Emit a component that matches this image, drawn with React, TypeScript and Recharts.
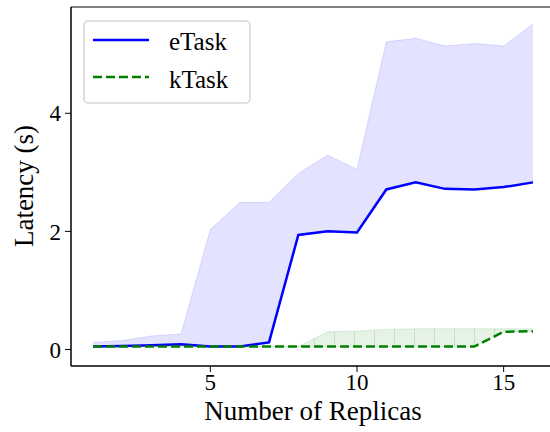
import React from 'react';
import { ComposedChart, Area, Line, XAxis, YAxis, ReferenceArea } from 'recharts';

// values
const replicas = [1, 2, 3, 4, 5, 6, 7, 8, 9, 10, 11, 12, 13, 14, 15, 16];
const eTaskMean = [0.05, 0.06, 0.07, 0.09, 0.05, 0.05, 0.12, 1.94, 2.0, 1.98, 2.71, 2.83, 2.72, 2.71, 2.75, 2.83];
const eTaskMax = [0.12, 0.15, 0.23, 0.26, 2.03, 2.49, 2.49, 2.98, 3.29, 3.05, 5.21, 5.27, 5.14, 5.18, 5.14, 5.51];
const kTaskMean = [0.05, 0.05, 0.05, 0.05, 0.05, 0.05, 0.05, 0.05, 0.05, 0.05, 0.05, 0.05, 0.05, 0.05, 0.3, 0.31];
const kTaskMax = [0.05, 0.05, 0.05, 0.05, 0.05, 0.05, 0.05, 0.05, 0.3, 0.31, 0.34, 0.35, 0.35, 0.35, 0.35, 0.35];
const xTicks = [5, 10, 15];
const yTicks = [0, 2, 4];
const seriesNames = ['eTask', 'kTask'];

const data = replicas.map((r, i) => ({
    replicas: r,
    eTask: eTaskMean[i],
    kTask: kTaskMean[i],
    eBand: [eTaskMean[i], eTaskMax[i]],
    kBand: [kTaskMean[i], kTaskMax[i]],
}));

const FONT = '"Liberation Serif", "DejaVu Serif", serif';
const BLUE = '#0000ff';
const GREEN = '#008000';

const App: React.FC = () => {
    return (
        <div style={{ position: 'absolute', left: 0, top: 0, width: 550, height: 432, overflow: 'hidden', background: '#fff' }}>
            <ComposedChart
                width={560}
                height={432}
                data={data}
                margin={{ top: 7, right: 5, bottom: 0, left: 0 }}
                style={{ fontFamily: FONT }}
            >
                <defs>
                    <pattern id="kHatch" patternUnits="userSpaceOnUse" width="20" height="10" x="14" y="0">
                        <rect x="0" y="0" width="20" height="10" fill={GREEN} fillOpacity={0.1} />
                        <line x1="0.5" y1="0" x2="0.5" y2="10" stroke={GREEN} strokeOpacity={0.15} strokeWidth={1} />
                    </pattern>
                </defs>
                <XAxis
                    dataKey="replicas"
                    type="number"
                    domain={[0.25, 16.75]}
                    ticks={xTicks}
                    allowDataOverflow
                    height={66}
                    tickSize={6}
                    tickMargin={2}
                    axisLine={{ stroke: '#000' }}
                    tickLine={{ stroke: '#000' }}
                    tick={{ fill: '#000', fontSize: 23, fontFamily: FONT }}
                    label={(p: any) => (
                        <text
                            x={313}
                            y={420}
                            textAnchor="middle"
                            fontSize={27}
                            fontFamily={FONT}
                            fill="#000"
                        >
                            Number of Replicas
                        </text>
                    )}
                />
                <YAxis
                    type="number"
                    domain={[-0.28, 5.8]}
                    ticks={yTicks}
                    allowDataOverflow
                    width={71}
                    tickSize={6}
                    tickMargin={4}
                    axisLine={{ stroke: '#000' }}
                    tickLine={{ stroke: '#000' }}
                    tick={{ fill: '#000', fontSize: 23, fontFamily: FONT }}
                    label={(p: any) => (
                        <text
                            x={33}
                            y={186}
                            transform="rotate(-90 33 186)"
                            textAnchor="middle"
                            fontSize={27}
                            fontFamily={FONT}
                            fill="#000"
                        >
                            Latency (s)
                        </text>
                    )}
                />
                <Area
                    dataKey="eBand"
                    type="linear"
                    stroke={BLUE}
                    strokeOpacity={0.12}
                    fill={BLUE}
                    fillOpacity={0.11}
                    isAnimationActive={false}
                    dot={false}
                    activeDot={false}
                />
                <Area
                    dataKey="kBand"
                    type="linear"
                    stroke={GREEN}
                    strokeOpacity={0.12}
                    fill="url(#kHatch)"
                    fillOpacity={1}
                    isAnimationActive={false}
                    dot={false}
                    activeDot={false}
                />
                <Line
                    dataKey="eTask"
                    type="linear"
                    stroke={BLUE}
                    strokeWidth={2.5}
                    dot={false}
                    activeDot={false}
                    isAnimationActive={false}
                />
                <Line
                    dataKey="kTask"
                    type="linear"
                    stroke={GREEN}
                    strokeWidth={2.5}
                    strokeDasharray="9 4"
                    dot={false}
                    activeDot={false}
                    isAnimationActive={false}
                />
                <ReferenceArea
                    x1={0.25}
                    x2={16.75}
                    y1={-0.28}
                    y2={5.8}
                    fill="none"
                    stroke="#000"
                    strokeWidth={1}
                    ifOverflow="visible"
                />
            </ComposedChart>
            {/* legend box, upper left */}
            <svg style={{ position: 'absolute', left: 83, top: 20 }} width={170} height={86}>
                <rect x={1} y={1} width={166} height={82} rx={4} fill="#fff" fillOpacity={0.8} stroke="#d6d6d6" strokeWidth={1.5} />
                <line x1={10} y1={20} x2={66} y2={20} stroke={BLUE} strokeWidth={2.5} />
                <text x={86} y={30} fontSize={25} fontFamily={FONT} fill="#000">{seriesNames[0]}</text>
                <line x1={10} y1={57} x2={66} y2={57} stroke={GREEN} strokeWidth={2.5} strokeDasharray="9 4" />
                <text x={86} y={68} fontSize={25} fontFamily={FONT} fill="#000">{seriesNames[1]}</text>
            </svg>
        </div>
    );
};

export default App;
